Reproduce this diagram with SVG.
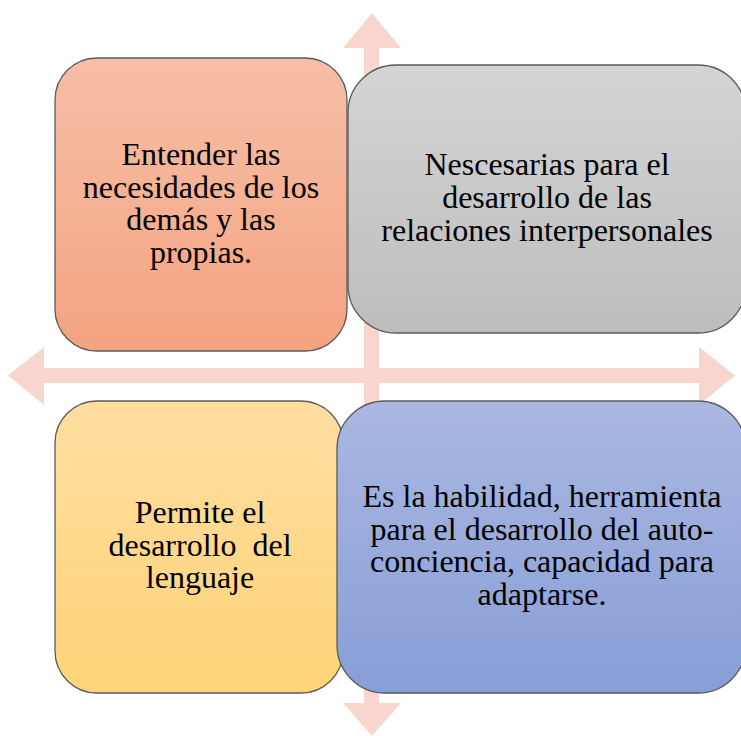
<svg xmlns="http://www.w3.org/2000/svg" width="741" height="736" viewBox="0 0 741 736">
<defs>
<linearGradient id="gOrange" x1="0" y1="0" x2="0" y2="1"><stop offset="0" stop-color="#F6BFA7"/><stop offset="1" stop-color="#F4A380"/></linearGradient>
<linearGradient id="gGray" x1="0" y1="0" x2="0" y2="1"><stop offset="0" stop-color="#D4D4D4"/><stop offset="1" stop-color="#BDBDBD"/></linearGradient>
<linearGradient id="gYellow" x1="0" y1="0" x2="0" y2="1"><stop offset="0" stop-color="#FEDEA0"/><stop offset="1" stop-color="#FFD478"/></linearGradient>
<linearGradient id="gBlue" x1="0" y1="0" x2="0" y2="1"><stop offset="0" stop-color="#AAB8E1"/><stop offset="1" stop-color="#889ED6"/></linearGradient>
</defs>
<style>
.box{stroke:#5a5a5a;stroke-width:1.3}
.t{font-family:'Liberation Serif','DejaVu Serif',serif;font-size:32px;fill:#000;text-anchor:middle}
.arr{fill:#F8D6CD}
</style>
<g id="connectors">
<polygon class="arr" points="372,13 401,48 379,48 379,703 401,703 372,736 343,703 364,703 364,48 343,48"/>
<polygon class="arr" points="8,375.5 44,347 44,368 699,368 699,347 735,375.5 699,405 699,383 44,383 44,405"/>
</g>
<g id="node1">
<rect class="box" x="55" y="58" width="292" height="293" rx="42" fill="url(#gOrange)"/>
<text class="t" y="165"><tspan x="201">Entender las</tspan><tspan x="201" dy="32.7">necesidades de los</tspan><tspan x="201" dy="32.7">demás y las</tspan><tspan x="201" dy="32.7">propias.</tspan></text>
</g>
<g id="node2">
<rect class="box" x="348" y="65" width="398" height="268" rx="48" fill="url(#gGray)"/>
<text class="t" y="175"><tspan x="547">Nescesarias para el</tspan><tspan x="547" dy="33">desarrollo de las</tspan><tspan x="547" dy="33">relaciones interpersonales</tspan></text>
</g>
<g id="node3">
<rect class="box" x="55" y="401" width="288" height="292" rx="42" fill="url(#gYellow)"/>
<text class="t" y="523" xml:space="preserve"><tspan x="200">Permite el</tspan><tspan x="200" dy="32.5">desarrollo  del</tspan><tspan x="200" dy="32.5">lenguaje</tspan></text>
</g>
<g id="node4">
<rect class="box" x="337" y="401" width="409" height="292" rx="48" fill="url(#gBlue)"/>
<text class="t" y="507"><tspan x="542">Es la habilidad, herramienta</tspan><tspan x="542" dy="32.7">para el desarrollo del auto-</tspan><tspan x="542" dy="32.7">conciencia, capacidad para</tspan><tspan x="542" dy="32.7">adaptarse.</tspan></text>
</g>
</svg>
